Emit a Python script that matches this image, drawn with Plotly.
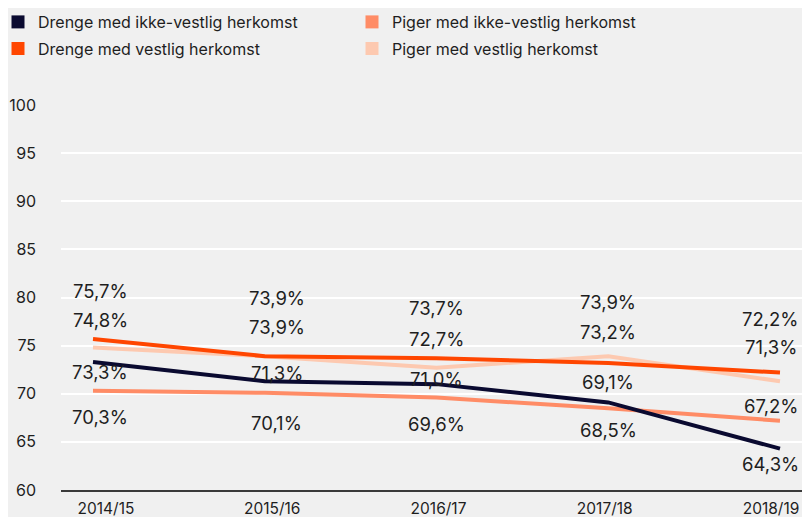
"""Line chart: share of pupils by gender and origin, 2014/15-2018/19."""

import plotly.graph_objects as go

seasons = ["2014/15", "2015/16", "2016/17", "2017/18", "2018/19"]

drenge_ikke_vestlig = [73.3, 71.3, 71.0, 69.1, 64.3]
piger_ikke_vestlig = [70.3, 70.1, 69.6, 68.5, 67.2]
drenge_vestlig = [75.7, 73.9, 73.7, 73.2, 72.2]
piger_vestlig = [74.8, 73.9, 72.7, 73.9, 71.3]

y_ticks = [60, 65, 70, 75, 80, 85, 90, 95, 100]

FONT = "Inter"
TEXT = "#1e1e1e"
BG = "#f0f0f0"
W, H = 810, 517
ML, MR, MT, MB = 53, 15, 97, 35
PLOT_W = W - ML - MR

# name, values, colour, legend slot, label yshift per point (px)
series = [
    ("Drenge med ikke-vestlig herkomst", drenge_ikke_vestlig, "#0a0a30", "legend", [-10, 8, 5, 20, -15]),
    ("Piger med ikke-vestlig herkomst", piger_ikke_vestlig, "#ff8c66", "legend2", [-26, -30, -26, -22, 15]),
    ("Drenge med vestlig herkomst", drenge_vestlig, "#ff4600", "legend3", [48, 58, 50, 31, 54]),
    ("Piger med vestlig herkomst", piger_vestlig, "#fdc9b0", "legend4", [28, 29, 29, 54, 34]),
]
draw_order = [3, 1, 2, 0]
label_xshift = [7, 12, 0, 0, -9]

fig = go.Figure()
xs = list(range(len(seasons)))

for i in draw_order:
    name, vals, color, _, _ = series[i]
    fig.add_trace(go.Scatter(
        x=xs, y=vals, mode="lines", name=name, showlegend=False,
        line={"color": color, "width": 4}, hoverinfo="skip",
    ))

# square legend swatches
for name, vals, color, leg, _ in series:
    fig.add_trace(go.Scatter(
        x=[None], y=[None], mode="markers", name=name, xaxis="x2", legend=leg,
        marker={"symbol": "square", "size": 13, "color": color},
    ))

annotations = []
for name, vals, color, _, shifts in series:
    for j, v in enumerate(vals):
        annotations.append({
            "x": j, "y": v, "xref": "x", "yref": "y",
            "text": f"{v:.1f}%".replace(".", ","),
            "showarrow": False, "yshift": shifts[j], "xshift": label_xshift[j],
            "font": {"family": FONT, "size": 18.5, "color": TEXT},
        })


def legend_box(left_px, row_px):
    return {
        "orientation": "h", "xref": "paper", "yref": "container",
        "x": (left_px - ML) / PLOT_W, "y": 1 - row_px / H,
        "xanchor": "left", "yanchor": "middle", "bgcolor": "rgba(0,0,0,0)",
        "font": {"family": FONT, "size": 16, "color": TEXT},
        "itemclick": False, "itemdoubleclick": False,
    }


fig.update_layout(
    width=W, height=H,
    margin={"l": ML, "r": MR, "t": MT, "b": MB, "autoexpand": False},
    paper_bgcolor=BG, plot_bgcolor=BG,
    font={"family": FONT, "size": 16, "color": TEXT},
    annotations=annotations,
    legend=legend_box(-10, 14),
    legend2=legend_box(344, 14),
    legend3=legend_box(-10, 40.5),
    legend4=legend_box(344, 40.5),
    xaxis={
        "range": [-0.1863, 4.134], "showgrid": False, "zeroline": False,
        "showticklabels": False, "showline": True, "linecolor": "#3a3a3a", "linewidth": 1.5,
    },
    xaxis2={
        "overlaying": "x", "side": "bottom", "anchor": "y",
        "range": [-0.2707, 4.1925], "tickmode": "array", "tickvals": xs, "ticktext": seasons,
        "showgrid": False, "zeroline": False, "ticks": "", "ticklabelstandoff": 7,
        "tickfont": {"family": FONT, "size": 15.5, "color": TEXT},
    },
    yaxis={
        "range": [60, 100], "tickvals": y_ticks, "showgrid": True, "gridcolor": "#ffffff",
        "gridwidth": 2, "zeroline": False, "ticks": "", "ticklabelstandoff": 24,
        "tickfont": {"family": FONT, "size": 16, "color": TEXT},
    },
)

fig.write_html("out.html")
